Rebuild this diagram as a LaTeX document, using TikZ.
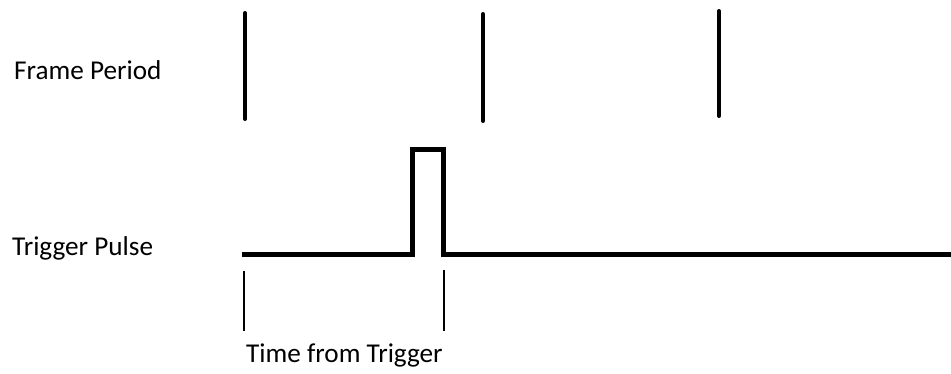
\documentclass[tikz,border=0pt]{standalone}
\usepackage{fontspec}
\setmainfont{Carlito}
\begin{document}
\begin{tikzpicture}[x=1pt,y=-1pt,
  lbl/.style={anchor=base west,inner sep=0pt,font=\fontsize{27.2}{32}\selectfont},
  frame/.style={line width=4pt,line cap=round},
  sig/.style={line width=5pt,line join=miter},
  tick/.style={line width=2.2pt}]
\useasboundingbox (0,0) rectangle (951,373);
\node[lbl] (fp) at (14,79) {Frame Period};
\node[lbl] (tp) at (12,255) {Trigger Pulse};
\node[lbl] (tt) at (246,362) {Time from Trigger};
% frame period marks
\coordinate (f1a) at (245,13); \coordinate (f1b) at (245,119);
\coordinate (f2a) at (483,14); \coordinate (f2b) at (483,121);
\coordinate (f3a) at (719,11); \coordinate (f3b) at (719,116);
\draw[frame] (f1a) -- (f1b);
\draw[frame] (f2a) -- (f2b);
\draw[frame] (f3a) -- (f3b);
% trigger pulse
\coordinate (s0) at (242,254.5);
\coordinate (s1) at (412.5,254.5);
\coordinate (s2) at (412.5,149.5);
\coordinate (s3) at (443.5,149.5);
\coordinate (s4) at (443.5,254.5);
\coordinate (s5) at (951,254.5);
\draw[sig] (s0) -- (s1) -- (s2) -- (s3) -- (s4) -- (s5);
% time from trigger ticks
\coordinate (t1a) at (244,271); \coordinate (t1b) at (244,331);
\coordinate (t2a) at (444,270); \coordinate (t2b) at (444,331);
\draw[tick] (t1a) -- (t1b);
\draw[tick] (t2a) -- (t2b);
\end{tikzpicture}
\end{document}
